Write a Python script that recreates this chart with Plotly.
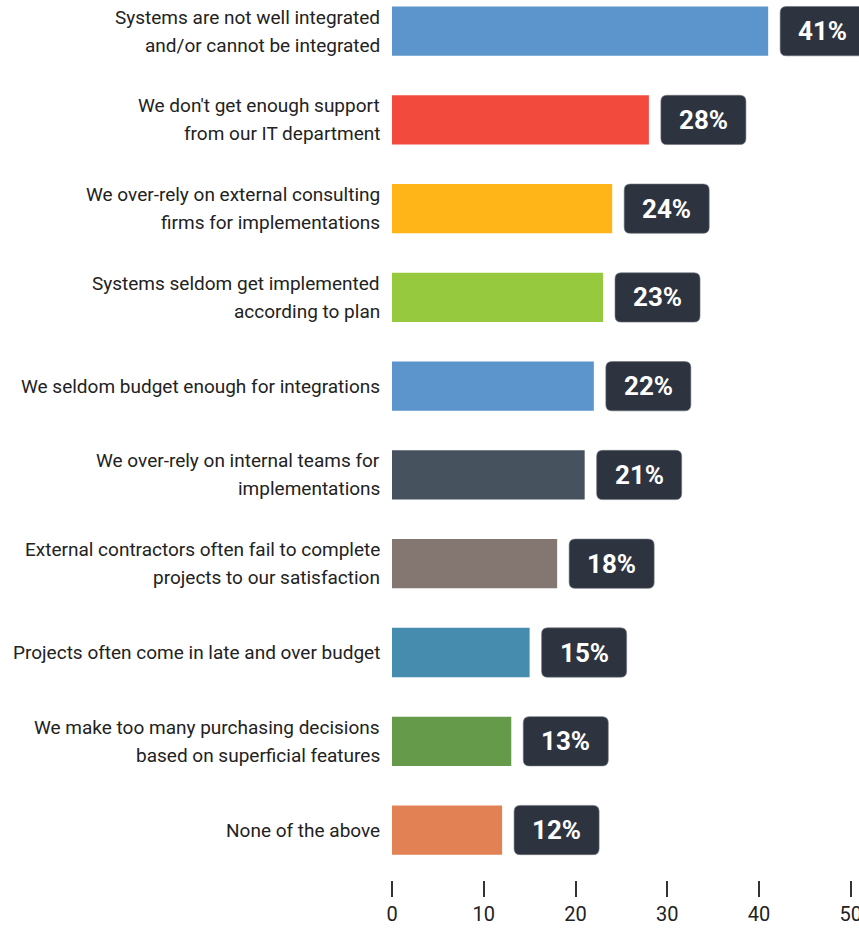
import plotly.graph_objects as go

# Survey responses: share of respondents (%) per challenge
labels = [
    ["Systems are not well integrated", "and/or cannot be integrated"],
    ["We don't get enough support", "from our IT department"],
    ["We over-rely on external consulting", "firms for implementations"],
    ["Systems seldom get implemented", "according to plan"],
    ["We seldom budget enough for integrations"],
    ["We over-rely on internal teams for", "implementations"],
    ["External contractors often fail to complete", "projects to our satisfaction"],
    ["Projects often come in late and over budget"],
    ["We make too many purchasing decisions", "based on superficial features"],
    ["None of the above"],
]
values = [41, 28, 24, 23, 22, 21, 18, 15, 13, 12]
colors = [
    "#5b95cc", "#f24a3d", "#ffb517", "#97c93f", "#5b95cc",
    "#47525f", "#847671", "#468cae", "#649a4a", "#e28154",
]
x_ticks = [0, 10, 20, 30, 40, 50]

W, H = 859, 928
margin = dict(l=392, r=0, t=0, b=48)
x_range = [0, 50.9]
y_range = [9.563, -0.351]

# pixel-to-data scale factors for sizing the value badges
px_x = (W - margin["l"] - margin["r"]) / (x_range[1] - x_range[0])
px_y = (H - margin["t"] - margin["b"]) / (y_range[0] - y_range[1])

bar_w = 0.555
gap = 12 / px_x
badge_w = 85 / px_x
rx, ry = 6 / px_x, 6 / px_y
line_gap = 28  # px between the two lines of a category label

pos = list(range(len(values)))

fig = go.Figure(go.Bar(
    x=values, y=pos, orientation="h", width=bar_w,
    marker=dict(color=colors, line=dict(width=0)),
    hoverinfo="skip",
))


def rounded_rect(x0, x1, y0, y1):
    return (f"M {x0 + rx},{y0} L {x1 - rx},{y0} Q {x1},{y0} {x1},{y0 + ry} "
            f"L {x1},{y1 - ry} Q {x1},{y1} {x1 - rx},{y1} "
            f"L {x0 + rx},{y1} Q {x0},{y1} {x0},{y1 - ry} "
            f"L {x0},{y0 + ry} Q {x0},{y0} {x0 + rx},{y0} Z")


for i, v in zip(pos, values):
    x0 = v + gap
    x1 = x0 + badge_w
    fig.add_shape(
        type="path", xref="x", yref="y",
        path=rounded_rect(x0, x1, i - bar_w / 2, i + bar_w / 2),
        fillcolor="#2d3440", line=dict(color="#6b717a", width=0.6),
    )
    fig.add_annotation(
        x=(x0 + x1) / 2, y=i, text=f"<b>{v}%</b>", showarrow=False,
        xref="x", yref="y",
        font=dict(family="Roboto", size=26, color="#ffffff"),
    )

# category labels, one annotation per text line
for i, lines in zip(pos, labels):
    n = len(lines)
    for k, line in enumerate(lines):
        offset = (k - (n - 1) / 2) * line_gap
        fig.add_annotation(
            x=0, y=i, xref="x", yref="y", text=line, showarrow=False,
            xanchor="right", yanchor="middle", xshift=-10, yshift=-offset,
            font=dict(family="Roboto", size=19, color="#222222"),
        )

fig.update_layout(
    width=W, height=H, margin=margin,
    paper_bgcolor="#ffffff", plot_bgcolor="#ffffff",
    showlegend=False,
    font=dict(family="Roboto", color="#222222"),
    xaxis=dict(
        range=x_range, tickvals=x_ticks, ticktext=[str(t) for t in x_ticks],
        showgrid=False, zeroline=False, showline=False,
        ticks="outside", ticklen=16, tickwidth=2, tickcolor="#333333",
        tickfont=dict(family="Roboto", size=20, color="#222222"),
        ticklabeloverflow="allow", automargin=False,
        fixedrange=True,
    ),
    yaxis=dict(
        range=y_range, showticklabels=False,
        showgrid=False, zeroline=False, showline=False,
        automargin=False, fixedrange=True,
    ),
)

fig.write_html("out.html")
